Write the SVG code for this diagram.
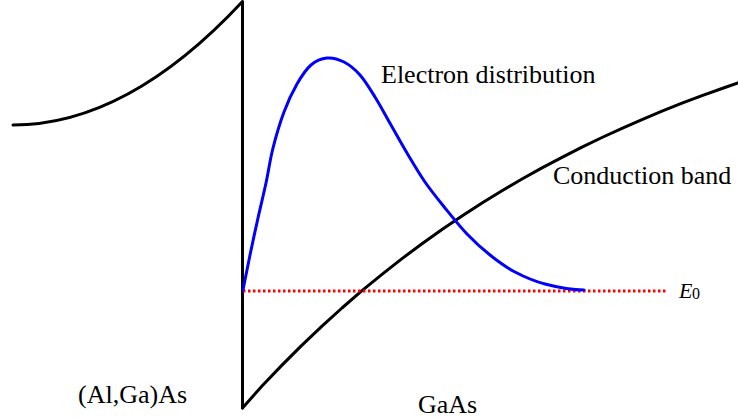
<svg xmlns="http://www.w3.org/2000/svg" width="738" height="418" viewBox="0 0 738 418">
<style>
.band{fill:none;stroke:#000;stroke-width:3;stroke-linejoin:round;stroke-linecap:round}
.dist{fill:none;stroke:#0000ff;stroke-width:3;stroke-linecap:round;stroke-linejoin:round}
.lvl{fill:none;stroke:#ff0000;stroke-width:3;stroke-dasharray:2.5 2.5}
.lbl{font-family:"Liberation Serif","Times New Roman",serif;font-size:26px;fill:#000}
</style>
<rect width="738" height="418" fill="#fff"/>
<g id="connectors">
<path id="algaas-band" class="band" d="M13,125 Q127.5,125 242.5,1.5 L242.5,408"/>
<polyline id="gaas-band" class="band" points="242.5,408 262,386 282,365.1 302,345.1 322,326.1 342,308 362,290.7 382,274.3 402,258.6 422,243.8 442,229.5 462,216 482,203.1 502,190.8 522,179 542,167.9 562,157.3 582,147.1 602,137.5 622,128.3 642,119.6 662,111.2 682,103.2 702,95.7 722,88.5 738,82.9"/>
<line id="e0-level" class="lvl" x1="243" y1="291" x2="668" y2="291"/>
<path id="electron-distribution" class="dist" d="M243,290 C245.33,278.33 247.5,267 250,255 C252.5,243 255.33,230 258,218 C260.67,206 263.5,194.67 266,183 C268.5,171.33 270,159.83 273,148 C276,136.17 280,122.67 284,112 C288,101.33 292.5,91.83 297,84 C301.5,76.17 306,69.33 311,65 C316,60.67 321.5,58.5 327,58 C332.5,57.5 338.5,59.17 344,62 C349.5,64.83 354.83,69.17 360,75 C365.17,80.83 369.83,88.67 375,97 C380.17,105.33 385.67,115.67 391,125 C396.33,134.33 401.33,143.5 407,153 C412.67,162.5 418.67,172.83 425,182 C431.33,191.17 438,199.33 445,208 C452,216.67 459.5,226.17 467,234 C474.5,241.83 482,248.67 490,255 C498,261.33 505.83,267.17 515,272 C524.17,276.83 533.5,281 545,284 C556.5,287 571,290 584,290"/>
</g>
<g id="label-electron-distribution"><text class="lbl" x="381" y="83">Electron distribution</text></g>
<g id="label-conduction-band"><text class="lbl" x="553" y="184">Conduction band</text></g>
<g id="label-algaas"><text class="lbl" x="78" y="403">(Al,Ga)As</text></g>
<g id="label-gaas"><text class="lbl" x="418" y="413">GaAs</text></g>
<g id="label-e0"><text x="679" y="298" font-family="'Liberation Serif','Times New Roman',serif" font-size="22" font-style="italic">E</text><text x="692" y="299" font-family="'Liberation Serif','Times New Roman',serif" font-size="16">0</text></g>
</svg>
